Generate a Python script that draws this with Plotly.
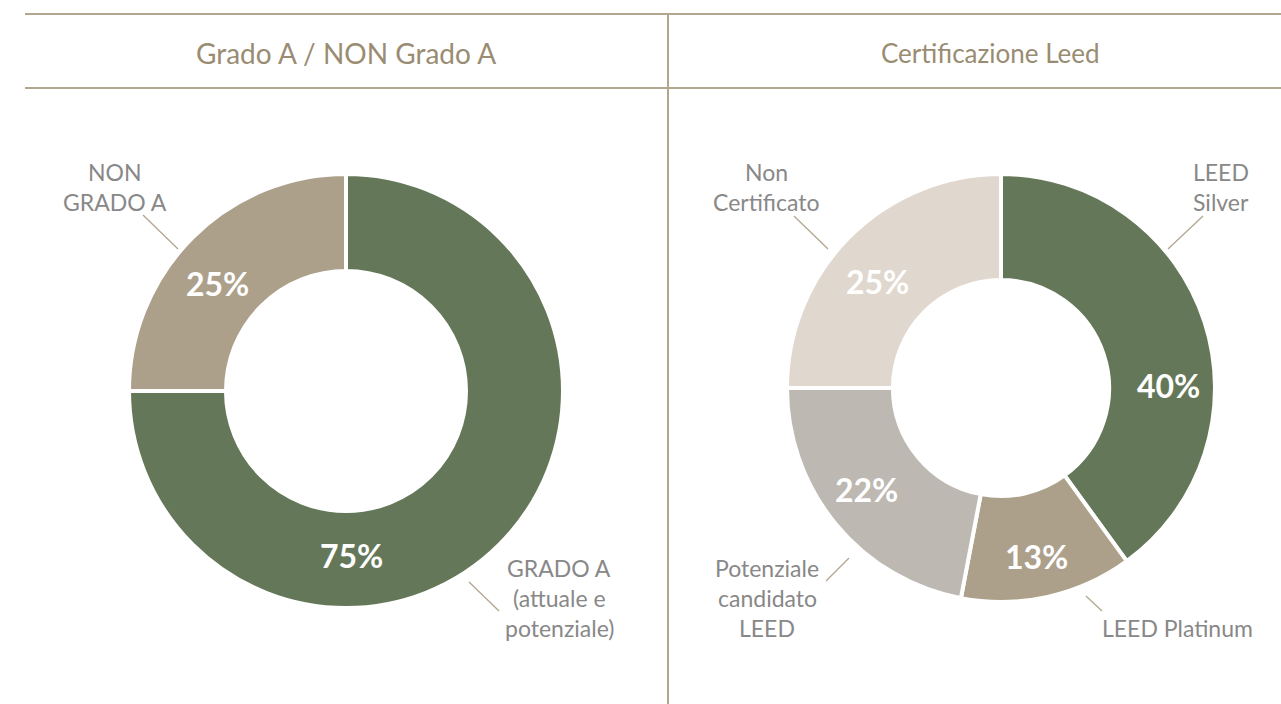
import plotly.graph_objects as go
import math

W, H = 1281, 704

# ---- data ----
left_title = "Grado A / NON Grado A"
left_labels = ["GRADO A<br>(attuale e<br>potenziale)", "NON<br>GRADO A"]
left_values = [75, 25]

right_title = "Certificazione Leed"
right_labels = ["LEED<br>Silver", "LEED Platinum", "Potenziale<br>candidato<br>LEED", "Non<br>Certificato"]
right_values = [40, 13, 22, 25]

# ---- style ----
GREEN = "#647859"
TAN = "#ADA08B"
GREY = "#BDB8B1"
LIGHT = "#E0D7CE"
left_colors = [GREEN, TAN]
right_colors = [GREEN, TAN, GREY, LIGHT]
LINE = "#B2A68F"
TITLE_C = "#9A8C72"
LABEL_C = "#888888"
FONT = "Lato"
LINE_GAP = 30  # px between label lines

# pixel geometry of the donuts (center x, center y, outer r, hole fraction)
L_GEOM = (346, 391, 217, 0.553)
R_GEOM = (1001, 388, 214, 0.505)

# label layout (pixel position of first line centre, leader lines)
left_lbl_pos = [(559, 568), (115, 172)]
left_leader = [((469, 582), (499, 611)), ((178, 249), (143, 215))]
right_lbl_pos = [(1221, 172), (1177, 628), (767, 568), (766, 172)]
right_leader = [((1168, 249), (1203, 216)), ((1086, 596), (1102, 611)),
                ((849, 558), (826, 581)), ((828, 249), (794, 216))]
# percentage label placement: (angle deg clockwise from top, radius px)
left_pct_place = [(178, 165), (310, 168)]
right_pct_place = [(89, 168), (168, 172), (233, 168), (311, 163)]


def px(x):
    return x / W


def py(y):
    return 1 - y / H


def domain(g):
    cx, cy, r, _ = g
    return dict(x=[px(cx - r), px(cx + r)], y=[py(cy + r), py(cy - r)])


fig = go.Figure()
for vals, cols, g in [(left_values, left_colors, L_GEOM), (right_values, right_colors, R_GEOM)]:
    fig.add_trace(go.Pie(
        values=vals, sort=False, direction="clockwise", rotation=0,
        hole=g[3], domain=domain(g), textinfo="none", hoverinfo="skip",
        marker=dict(colors=cols, line=dict(color="white", width=4)),
        showlegend=False,
    ))

annotations = []
shapes = []


def pct_labels(vals, g, places):
    cx, cy, r, hole = g
    tot = sum(vals)
    for v, (ang, rad) in zip(vals, places):
        a = math.radians(ang)
        x = cx + rad * math.sin(a)
        y = cy - rad * math.cos(a)
        annotations.append(dict(
            x=px(x), y=py(y), xref="paper", yref="paper", showarrow=False,
            text=f"<b>{round(v / tot * 100)}%</b>",
            font=dict(family=FONT, size=32, color="white"),
            xanchor="center", yanchor="middle"))


pct_labels(left_values, L_GEOM, left_pct_place)
pct_labels(right_values, R_GEOM, right_pct_place)

for labels, pos, leads in [(left_labels, left_lbl_pos, left_leader),
                           (right_labels, right_lbl_pos, right_leader)]:
    for t, (x, y), ((x0, y0), (x1, y1)) in zip(labels, pos, leads):
        for i, line in enumerate(t.split("<br>")):
            annotations.append(dict(
                x=px(x), y=py(y + i * LINE_GAP), xref="paper", yref="paper",
                showarrow=False, text=line,
                font=dict(family=FONT, size=23, color=LABEL_C),
                xanchor="center", yanchor="middle"))
        shapes.append(dict(type="line", xref="paper", yref="paper",
                           x0=px(x0), y0=py(y0), x1=px(x1), y1=py(y1),
                           line=dict(color=LINE, width=1.3)))

# titles
for t, x, fs in [(left_title, 346, 28), (right_title, 990, 26)]:
    annotations.append(dict(
        x=px(x), y=py(53), xref="paper", yref="paper", showarrow=False,
        text=t, font=dict(family=FONT, size=fs, color=TITLE_C),
        xanchor="center", yanchor="middle"))

# frame lines
shapes += [
    dict(type="line", xref="paper", yref="paper", x0=px(25), x1=1, y0=py(14), y1=py(14),
         line=dict(color=LINE, width=2)),
    dict(type="line", xref="paper", yref="paper", x0=px(25), x1=1, y0=py(88), y1=py(88),
         line=dict(color=LINE, width=2)),
    dict(type="line", xref="paper", yref="paper", x0=px(668), x1=px(668), y0=py(14), y1=0,
         line=dict(color=LINE, width=2)),
]

fig.update_layout(
    width=W, height=H, margin=dict(l=0, r=0, t=0, b=0),
    paper_bgcolor="white", plot_bgcolor="white",
    annotations=annotations, shapes=shapes,
)

fig.write_html("out.html", config={"displayModeBar": False},
               post_script="document.body.style.margin='0';document.body.style.overflow='hidden';")
